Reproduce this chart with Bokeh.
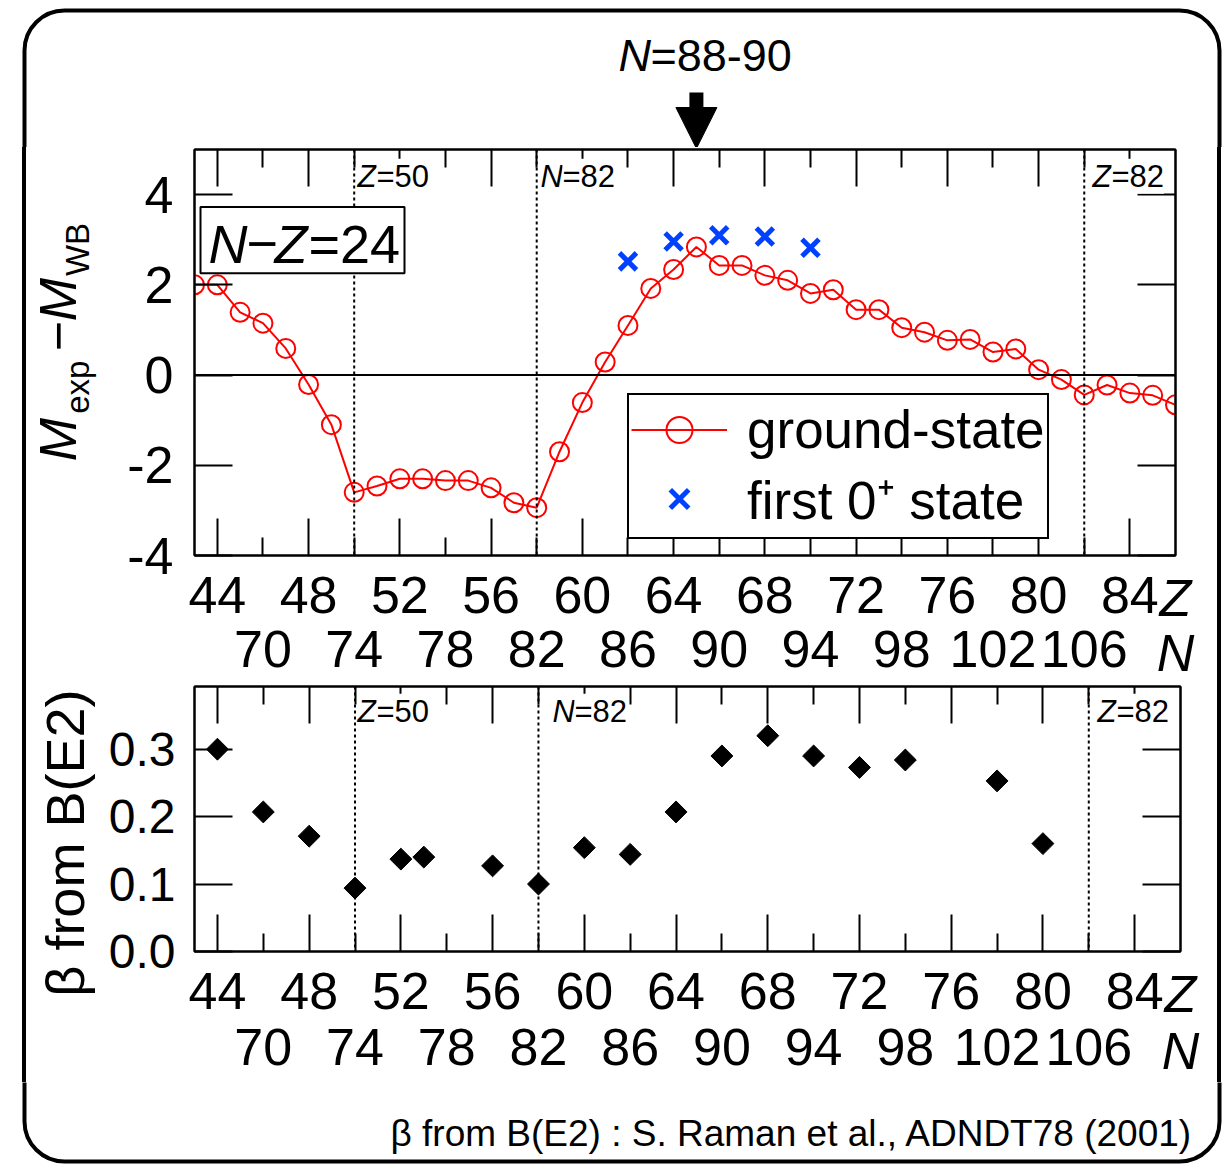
import math
from bokeh.plotting import figure
from bokeh.layouts import column, row
from bokeh.models import (Range1d, FixedTicker, LinearAxis, Label, Span,
                          BoxAnnotation, Arrow, NormalHead, Legend, LegendItem,
                          NumeralTickFormatter, Spacer)
from bokeh.embed import file_html
from bokeh.resources import INLINE

# ---------------- data ----------------
z_ground = list(range(43, 87))
m_ground = [2.00, 2.00, 1.39, 1.15, 0.59, -0.21, -1.10, -2.60, -2.46, -2.30,
            -2.30, -2.34, -2.34, -2.50, -2.83, -2.94, -1.70, -0.61, 0.29, 1.10,
            1.92, 2.34, 2.84, 2.43, 2.43, 2.21, 2.10, 1.81, 1.89, 1.45,
            1.45, 1.05, 0.95, 0.77, 0.79, 0.51, 0.58, 0.12, -0.10, -0.44,
            -0.22, -0.40, -0.45, -0.66]
z_first0 = [62, 64, 66, 68, 70]
m_first0 = [2.52, 2.96, 3.10, 3.07, 2.82]

z_beta = [44, 46, 48, 50, 52, 53, 56, 58, 60, 62, 64, 66, 68, 70, 72, 74, 78, 80]
beta_be2 = [0.300, 0.207, 0.171, 0.094, 0.137, 0.140, 0.127, 0.100, 0.154,
            0.144, 0.207, 0.290, 0.320, 0.290, 0.273, 0.284, 0.253, 0.160]

z_major_ticks = [44, 48, 52, 56, 60, 64, 68, 72, 76, 80, 84]
z_minor_ticks = [46, 50, 54, 58, 62, 66, 70, 74, 78, 82]
n_ticks = [70, 74, 78, 82, 86, 90, 94, 98, 102, 106]
m_ticks = [-4, -2, 0, 2, 4]
beta_ticks = [0.0, 0.1, 0.2, 0.3]
shell_z = [50, 58, 82]          # Z=50, N=82 (Z=58), Z=82
n_minus_z = 24
arrow_z = 65                    # N = 89
z_range = (43, 86)
m_range = (-4, 5)
beta_range = (0, 0.393)

FONT = "Liberation Sans"

# ---------------- page geometry ----------------
PAGE_W, PAGE_H = 1223, 1165
LEFT_W, RIGHT_W = 26, 23
MAIN_W = PAGE_W - LEFT_W - RIGHT_W
F1_L, F1_R, F1_T, F1_B = 194, 1175, 149, 559
F2_L, F2_R, F2_T, F2_B = 194, 1180, 686, 955
HEAD_H = 147
ROW1_B = F1_B + 125
ROW2_B = F2_B + 127
BORDER = dict(left=24, right=1219, top=PAGE_H - 10, bottom=PAGE_H - 1161)
LEFT_LINE = "linear-gradient(to right, #ffffff 22px, #000000 22px, #000000 26px, #ffffff 26px)"
RIGHT_LINE = "linear-gradient(to right, #ffffff 17px, #000000 17px, #000000 21px, #ffffff 21px)"


def zx1(px): return z_range[0] + (px - F1_L) * (z_range[1] - z_range[0]) / (F1_R - F1_L)
def vy1(py): return m_range[1] - (py - F1_T) * (m_range[1] - m_range[0]) / (F1_B - F1_T)
def zx2(px): return z_range[0] + (px - F2_L) * (z_range[1] - z_range[0]) / (F2_R - F2_L)
def vy2(py): return beta_range[1] - (py - F2_T) * (beta_range[1] - beta_range[0]) / (F2_B - F2_T)
def px_of_z1(z): return F1_L + (z - z_range[0]) * (F1_R - F1_L) / (z_range[1] - z_range[0])
def up(py): return PAGE_H - py     # page y (down) -> helper-figure y (up)


def style_axis(ax, ticks, minor=None, show_labels=True, size="52px", standoff=12, fmt="0"):
    ax.ticker = FixedTicker(ticks=ticks, minor_ticks=minor or [])
    ax.major_tick_in = 37
    ax.major_tick_out = 0
    ax.minor_tick_in = 18
    ax.minor_tick_out = 0
    ax.axis_line_width = 2
    ax.major_tick_line_width = 2
    ax.minor_tick_line_width = 2
    ax.axis_line_color = "black"
    ax.major_tick_line_color = "black"
    ax.minor_tick_line_color = "black"
    ax.formatter = NumeralTickFormatter(format=fmt)
    ax.major_label_text_font = FONT
    if show_labels:
        ax.major_label_text_color = "black"
        ax.major_label_text_font_size = size
        ax.major_label_standoff = standoff
    else:
        ax.major_label_text_color = None
        ax.major_label_text_font_size = "1px"
        ax.major_label_standoff = 0


def text_axis(ticks, labels, standoff, italic=False, size="52px", orientation="horizontal", **kw):
    ax = LinearAxis(**kw)
    ax.ticker = FixedTicker(ticks=ticks)
    ax.major_label_overrides = dict(zip(ticks, labels))
    ax.major_label_orientation = orientation
    ax.major_tick_in = 0
    ax.major_tick_out = 0
    ax.minor_tick_in = 0
    ax.minor_tick_out = 0
    ax.axis_line_color = None
    ax.major_tick_line_color = None
    ax.minor_tick_line_color = None
    ax.major_label_text_font = FONT
    ax.major_label_text_font_size = size
    ax.major_label_text_font_style = "italic" if italic else "normal"
    ax.major_label_text_color = "black"
    ax.major_label_standoff = standoff
    return ax


def add_text(p, x, y, text, size, italic=False, bg=None):
    lab = Label(x=x, y=y, text=text, text_font=FONT, text_font_size=size,
                text_font_style="italic" if italic else "normal",
                text_color="black", text_baseline="alphabetic", text_align="left")
    if bg is not None:
        lab.background_fill_color = bg
        lab.background_fill_alpha = 1.0
    p.add_layout(lab)


def blank_fig(x0, x1, y0, y1):
    f = figure(width=x1 - x0, height=y1 - y0, x_range=Range1d(x0, x1),
               y_range=Range1d(up(y1), up(y0)), output_backend="svg", toolbar_location=None,
               x_axis_location=None, y_axis_location=None, min_border=0,
               outline_line_color=None, background_fill_color="white",
               border_fill_color="white")
    f.grid.visible = False
    f.add_layout(BoxAnnotation(fill_alpha=0, line_color="black", line_alpha=1.0,
                               line_width=4, border_radius=40, **BORDER))
    return f


# ---------------- header (title + arrow) ----------------
head = blank_fig(0, PAGE_W, 0, HEAD_H)
add_text(head, 618, up(55), "N", "45px", italic=True)
add_text(head, 650, up(55), "=88-90", "45px")
ax_px = px_of_z1(arrow_z)
head.segment(x0=[ax_px], y0=[up(92)], x1=[ax_px], y1=[up(114)], line_width=14,
             line_color="black")
head.add_layout(Arrow(end=NormalHead(size=41, fill_color="black", line_color="black"),
                      x_start=ax_px, y_start=up(100), x_end=ax_px, y_end=up(F1_T - 1),
                      line_alpha=0))

# ---------------- side strips (border sides) and footer ----------------
left1 = Spacer(width=LEFT_W, height=ROW1_B - HEAD_H, styles={"background": LEFT_LINE})
right1 = Spacer(width=RIGHT_W, height=ROW1_B - HEAD_H, styles={"background": RIGHT_LINE})
left2 = Spacer(width=LEFT_W, height=ROW2_B - ROW1_B, styles={"background": LEFT_LINE})
right2 = Spacer(width=RIGHT_W, height=ROW2_B - ROW1_B, styles={"background": RIGHT_LINE})
foot = blank_fig(0, PAGE_W, ROW2_B, PAGE_H)
add_text(foot, 390, up(1133), "\u03b2 from B(E2) : S. Raman et al., ADNDT78 (2001)", "37px")

# ---------------- top panel ----------------
p1 = figure(width=MAIN_W, height=ROW1_B - HEAD_H, x_range=Range1d(*z_range),
            y_range=Range1d(*m_range), output_backend="svg", toolbar_location=None,
            min_border_left=F1_L - LEFT_W, min_border_right=LEFT_W + MAIN_W - F1_R,
            min_border_top=F1_T - HEAD_H, min_border_bottom=ROW1_B - F1_B,
            outline_line_color="black", outline_line_width=2,
            background_fill_color="white", border_fill_color="white")
p1.grid.visible = False
p1.extra_x_ranges = {"N": Range1d(z_range[0] + n_minus_z, z_range[1] + n_minus_z)}

style_axis(p1.xaxis[0], z_major_ticks, z_minor_ticks, True, "52px", 21)
p1.add_layout(text_axis([z_range[1]], ["Z"], -47, italic=True), "below")
n_axis1 = LinearAxis(x_range_name="N")
style_axis(n_axis1, n_ticks, None, True, "52px", 1)
n_axis1.axis_line_color = None
n_axis1.major_tick_line_color = None
n_axis1.minor_tick_line_color = None
p1.add_layout(n_axis1, "below")
p1.add_layout(text_axis([z_range[1] + n_minus_z], ["N"], -46, italic=True,
                        x_range_name="N"), "below")

style_axis(p1.yaxis[0], m_ticks, None, True, "52px", 21)
p1.yaxis[0].major_tick_in = 38
# y-axis title  M_exp - M_WB  (subscripts, then italic parts)
p1.add_layout(text_axis([vy1(389), vy1(250)], ["exp", "WB"], 28, size="33px",
                        orientation="vertical"), "left")
p1.add_layout(text_axis([vy1(442), vy1(316)], ["M", "\u2212M"], -31, italic=True,
                        size="52px", orientation="vertical"), "left")

top1 = LinearAxis()
style_axis(top1, z_major_ticks, z_minor_ticks, False)
p1.add_layout(top1, "above")
right_ax1 = LinearAxis()
style_axis(right_ax1, m_ticks, None, False)
right_ax1.major_tick_in = 38
p1.add_layout(right_ax1, "right")

for zs in shell_z:
    p1.add_layout(Span(location=zs, dimension="height", line_color="black",
                       line_width=2, line_dash="3 3"))
p1.add_layout(Span(location=0, dimension="width", line_color="black", line_width=2))

gl = p1.line(z_ground, m_ground, line_color="#ff0000", line_width=2)
gs = p1.scatter(z_ground, m_ground, marker="circle", size=19, fill_color=None,
                line_color="#ff0000", line_width=2)
fx = p1.scatter(z_first0, m_first0, marker="x", size=24, line_color="#0040ff",
                line_width=5)

legend = Legend(items=[LegendItem(label="ground-state", renderers=[gl, gs]),
                       LegendItem(label="first 0\u207a state", renderers=[fx])],
                location=(627 - F1_L, 16), padding=2, spacing=0, margin=0,
                glyph_width=96, glyph_height=65, label_standoff=20,
                label_text_font=FONT, label_text_font_size="53px",
                label_text_color="black", border_line_color="black",
                border_line_alpha=1.0, border_line_width=2,
                background_fill_color="white", background_fill_alpha=1.0)
p1.add_layout(legend)

add_text(p1, zx1(357), vy1(176), "Z", "31px", italic=True, bg="white")
add_text(p1, zx1(376), vy1(176), "=50", "31px", bg="white")
add_text(p1, zx1(540), vy1(176), "N", "31px", italic=True, bg="white")
add_text(p1, zx1(562), vy1(176), "=82", "31px", bg="white")
add_text(p1, zx1(1092), vy1(176), "Z", "31px", italic=True, bg="white")
add_text(p1, zx1(1111), vy1(176), "=82", "31px", bg="white")

p1.add_layout(BoxAnnotation(left=zx1(200), right=zx1(404), top=vy1(207), bottom=vy1(274),
                            fill_color="white", fill_alpha=1.0, line_color="black",
                            line_alpha=1.0, line_width=2))
add_text(p1, zx1(208), vy1(244), "N", "54px", italic=True)
add_text(p1, zx1(246), vy1(244), "\u2212", "54px")
add_text(p1, zx1(274), vy1(244), "Z", "54px", italic=True)
add_text(p1, zx1(308), vy1(244), "=%d" % n_minus_z, "54px")

# ---------------- bottom panel ----------------
p2 = figure(width=MAIN_W, height=ROW2_B - ROW1_B, x_range=Range1d(*z_range),
            y_range=Range1d(*beta_range), output_backend="svg", toolbar_location=None,
            min_border_left=F2_L - LEFT_W, min_border_right=LEFT_W + MAIN_W - F2_R,
            min_border_top=F2_T - ROW1_B, min_border_bottom=ROW2_B - F2_B,
            outline_line_color="black", outline_line_width=2,
            background_fill_color="white", border_fill_color="white")
p2.grid.visible = False
p2.extra_x_ranges = {"N": Range1d(z_range[0] + n_minus_z, z_range[1] + n_minus_z)}

style_axis(p2.xaxis[0], z_major_ticks, z_minor_ticks, True, "52px", 21)
p2.add_layout(text_axis([z_range[1]], ["Z"], -47, italic=True), "below")
n_axis2 = LinearAxis(x_range_name="N")
style_axis(n_axis2, n_ticks, None, True, "52px", 3)
n_axis2.axis_line_color = None
n_axis2.major_tick_line_color = None
n_axis2.minor_tick_line_color = None
p2.add_layout(n_axis2, "below")
p2.add_layout(text_axis([z_range[1] + n_minus_z], ["N"], -46, italic=True,
                        x_range_name="N"), "below")

style_axis(p2.yaxis[0], beta_ticks, None, True, "48px", 19, fmt="0.0")
p2.yaxis[0].major_tick_in = 38
p2.add_layout(text_axis([vy2(845)], ["\u03b2 from B(E2)"], 10, size="54px",
                        orientation="vertical"), "left")

top2 = LinearAxis()
style_axis(top2, z_major_ticks, z_minor_ticks, False)
p2.add_layout(top2, "above")
right_ax2 = LinearAxis()
style_axis(right_ax2, beta_ticks, None, False)
right_ax2.major_tick_in = 38
p2.add_layout(right_ax2, "right")

for zs in shell_z:
    p2.add_layout(Span(location=zs, dimension="height", line_color="black",
                       line_width=2, line_dash="3 3"))

p2.scatter(z_beta, beta_be2, marker="square", angle=math.pi / 4, size=15.5,
           fill_color="black", line_color="black", line_width=1)

add_text(p2, zx2(357), vy2(711), "Z", "31px", italic=True, bg="white")
add_text(p2, zx2(376), vy2(711), "=50", "31px", bg="white")
add_text(p2, zx2(552), vy2(711), "N", "31px", italic=True, bg="white")
add_text(p2, zx2(574), vy2(711), "=82", "31px", bg="white")
add_text(p2, zx2(1097), vy2(711), "Z", "31px", italic=True, bg="white")
add_text(p2, zx2(1116), vy2(711), "=82", "31px", bg="white")

layout = column(head,
                row(left1, p1, right1),
                row(left2, p2, right2),
                foot)
open("out.html", "w").write(file_html(layout, INLINE))
